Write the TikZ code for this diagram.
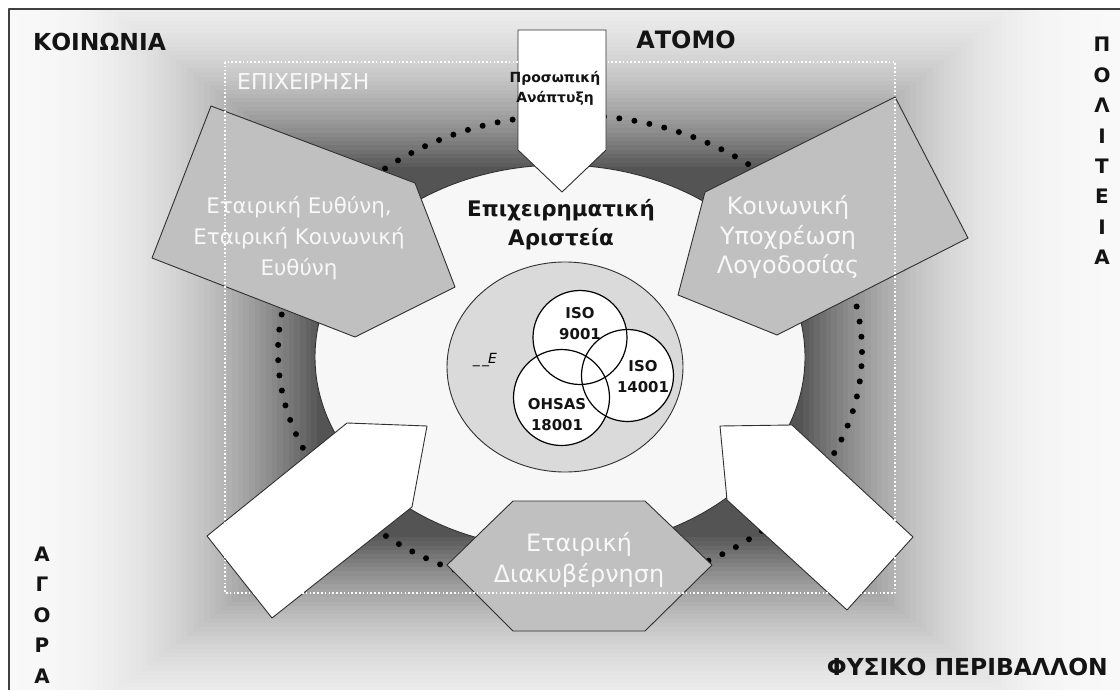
\documentclass[tikz,border=0pt]{standalone}
\usepackage{fontspec}
\setmainfont{DejaVu Sans}
\definecolor{shapegray}{HTML}{C0C0C0}
\definecolor{lightfill}{HTML}{F7F7F7}
\definecolor{innerfill}{HTML}{DADADA}
\definecolor{outline}{HTML}{303030}
\definecolor{darktext}{HTML}{141414}
\definecolor{paletext}{HTML}{F8F8F8}
\newcommand{\fsz}[2]{\fontsize{#1}{#2}\selectfont}
\begin{document}
\begin{tikzpicture}[x=1bp,y=-1bp,line join=round,
  outl/.style={draw=outline,line width=0.9bp},
  grayshape/.style={outl,fill=shapegray},
  whiteshape/.style={outl,fill=white},
  corner/.style={font=\bfseries\fsz{23.5}{26},text=darktext,inner sep=0pt},
  vert/.style={font=\bfseries\fsz{20}{30.5},text=darktext,align=center,inner sep=0pt},
  onshape/.style={font=\fsz{22}{31},text=paletext,align=center,inner sep=0pt},
  stdlabel/.style={font=\bfseries\fsz{15}{21},text=darktext,align=center,inner sep=0pt}]
\useasboundingbox (0,0) rectangle (1120,690);
\fill[white] (0,0) rectangle (1120,690);
% rectangular path gradient background
\begin{scope}
\clip (9,9) rectangle (1120,690);
\foreach \i in {0,...,63} {
  \pgfmathsetmacro\t{1.05-\i*0.01}
  \pgfmathsetmacro\u{max(0,min(1,(1-\t)/0.57))}
  \pgfmathsetmacro\g{max(0.33,min(0.975,0.975-0.645*\u^2.5))}
  \definecolor{bgc}{gray}{\g}
  \fill[bgc] ({560-\t*565},{352-\t*430}) rectangle ({560+\t*565},{352+\t*430});
}
\end{scope}
\draw[line width=2bp,black!75] (9,690) -- (9,9) -- (1120,9);
% dotted ring
\draw[line width=6bp,dash pattern=on 0bp off 15.3bp,line cap=round]
  (570,352) ellipse [x radius=292bp,y radius=237bp];
% central light ellipse
\draw[outl,fill=lightfill] (560,357) ellipse [x radius=245bp,y radius=192bp];
% inner ellipse and circles
\draw[outl,fill=innerfill] (565,367) ellipse [x radius=118bp,y radius=105bp];
\fill[white] (580,337.5) circle [radius=47bp];
\fill[white] (627.5,375.5) circle [radius=46bp];
\fill[white] (561.5,397.5) circle [radius=48bp];
\draw[line width=1.2bp] (580,337.5) circle [radius=47bp];
\draw[line width=1.2bp] (627.5,375.5) circle [radius=46bp];
\draw[line width=1.2bp] (561.5,397.5) circle [radius=48bp];
\node[stdlabel] (iso9) at (580,324) {ISO\\9001};
\node[stdlabel] (iso14) at (643,377) {ISO\\14001};
\node[stdlabel] (ohsas) at (557,415) {OHSAS\\18001};
\node[font=\fsz{14}{16},inner sep=0pt] (sde) at (485,360) {\_\,\_\kern-1pt\textit{Ε}};
\node[font=\bfseries\fsz{21.5}{29},text=darktext,align=center,inner sep=0pt] (exc) at (561,225) {Επιχειρηματική\\Αριστεία};
% top arrow
\draw[whiteshape] (518,30) -- (606,30) -- (606,150) -- (562,192) -- (518,150) -- cycle;
\node[font=\bfseries\fsz{14}{20},text=darktext,align=center,inner sep=0pt] (pers) at (555,88) {Προσωπική\\Ανάπτυξη};
% left gray pentagon
\draw[grayshape] (211,106) -- (415,183) -- (455,287) -- (355,337) -- (152,258) -- cycle;
\node[onshape,font=\fsz{21.5}{31}] (csr) at (299,238) {Εταιρική Ευθύνη,\\Εταιρική Κοινωνική\\Ευθύνη};
% right gray pentagon
\draw[grayshape] (895,97) -- (968,238) -- (777,335) -- (678,295) -- (705,192) -- cycle;
\node[onshape,font=\fsz{24}{30}] (acc) at (788,237) {Κοινωνική\\Υποχρέωση\\Λογοδοσίας};
% bottom white arrows
\draw[whiteshape] (207,536) -- (347,423) -- (427,426) -- (412,507) -- (272,618) -- cycle;
\draw[whiteshape] (913,537) -- (792,425) -- (720,426) -- (727,500) -- (847,610) -- cycle;
% hexagon
\draw[grayshape] (447,565) -- (513,501) -- (645,501) -- (712,565) -- (645,631) -- (513,631) -- cycle;
\node[onshape,font=\fsz{24}{31}] (gov) at (579,560) {Εταιρική\\Διακυβέρνηση};
% company dotted frame
\draw[white,line width=1.6bp,dash pattern=on 1.6bp off 2.2bp] (225,62) rectangle (895,593);
\node[anchor=west,font=\fsz{22}{24},text=paletext,inner sep=0pt] (firm) at (237,82) {ΕΠΙΧΕΙΡΗΣΗ};
% outer labels
\node[corner,anchor=west] (soc) at (33,42) {ΚΟΙΝΩΝΙΑ};
\node[font=\bfseries\fsz{24}{26},text=darktext,inner sep=0pt] (ind) at (686,40) {ΑΤΟΜΟ};
\node[corner,anchor=east] (env) at (1108,667) {ΦΥΣΙΚΟ ΠΕΡΙΒΑΛΛΟΝ};
\node[vert] (state) at (1102,151) {Π\\Ο\\Λ\\Ι\\Τ\\Ε\\Ι\\Α};
\node[vert] (market) at (42,615) {Α\\Γ\\Ο\\Ρ\\Α};
\end{tikzpicture}
\end{document}
